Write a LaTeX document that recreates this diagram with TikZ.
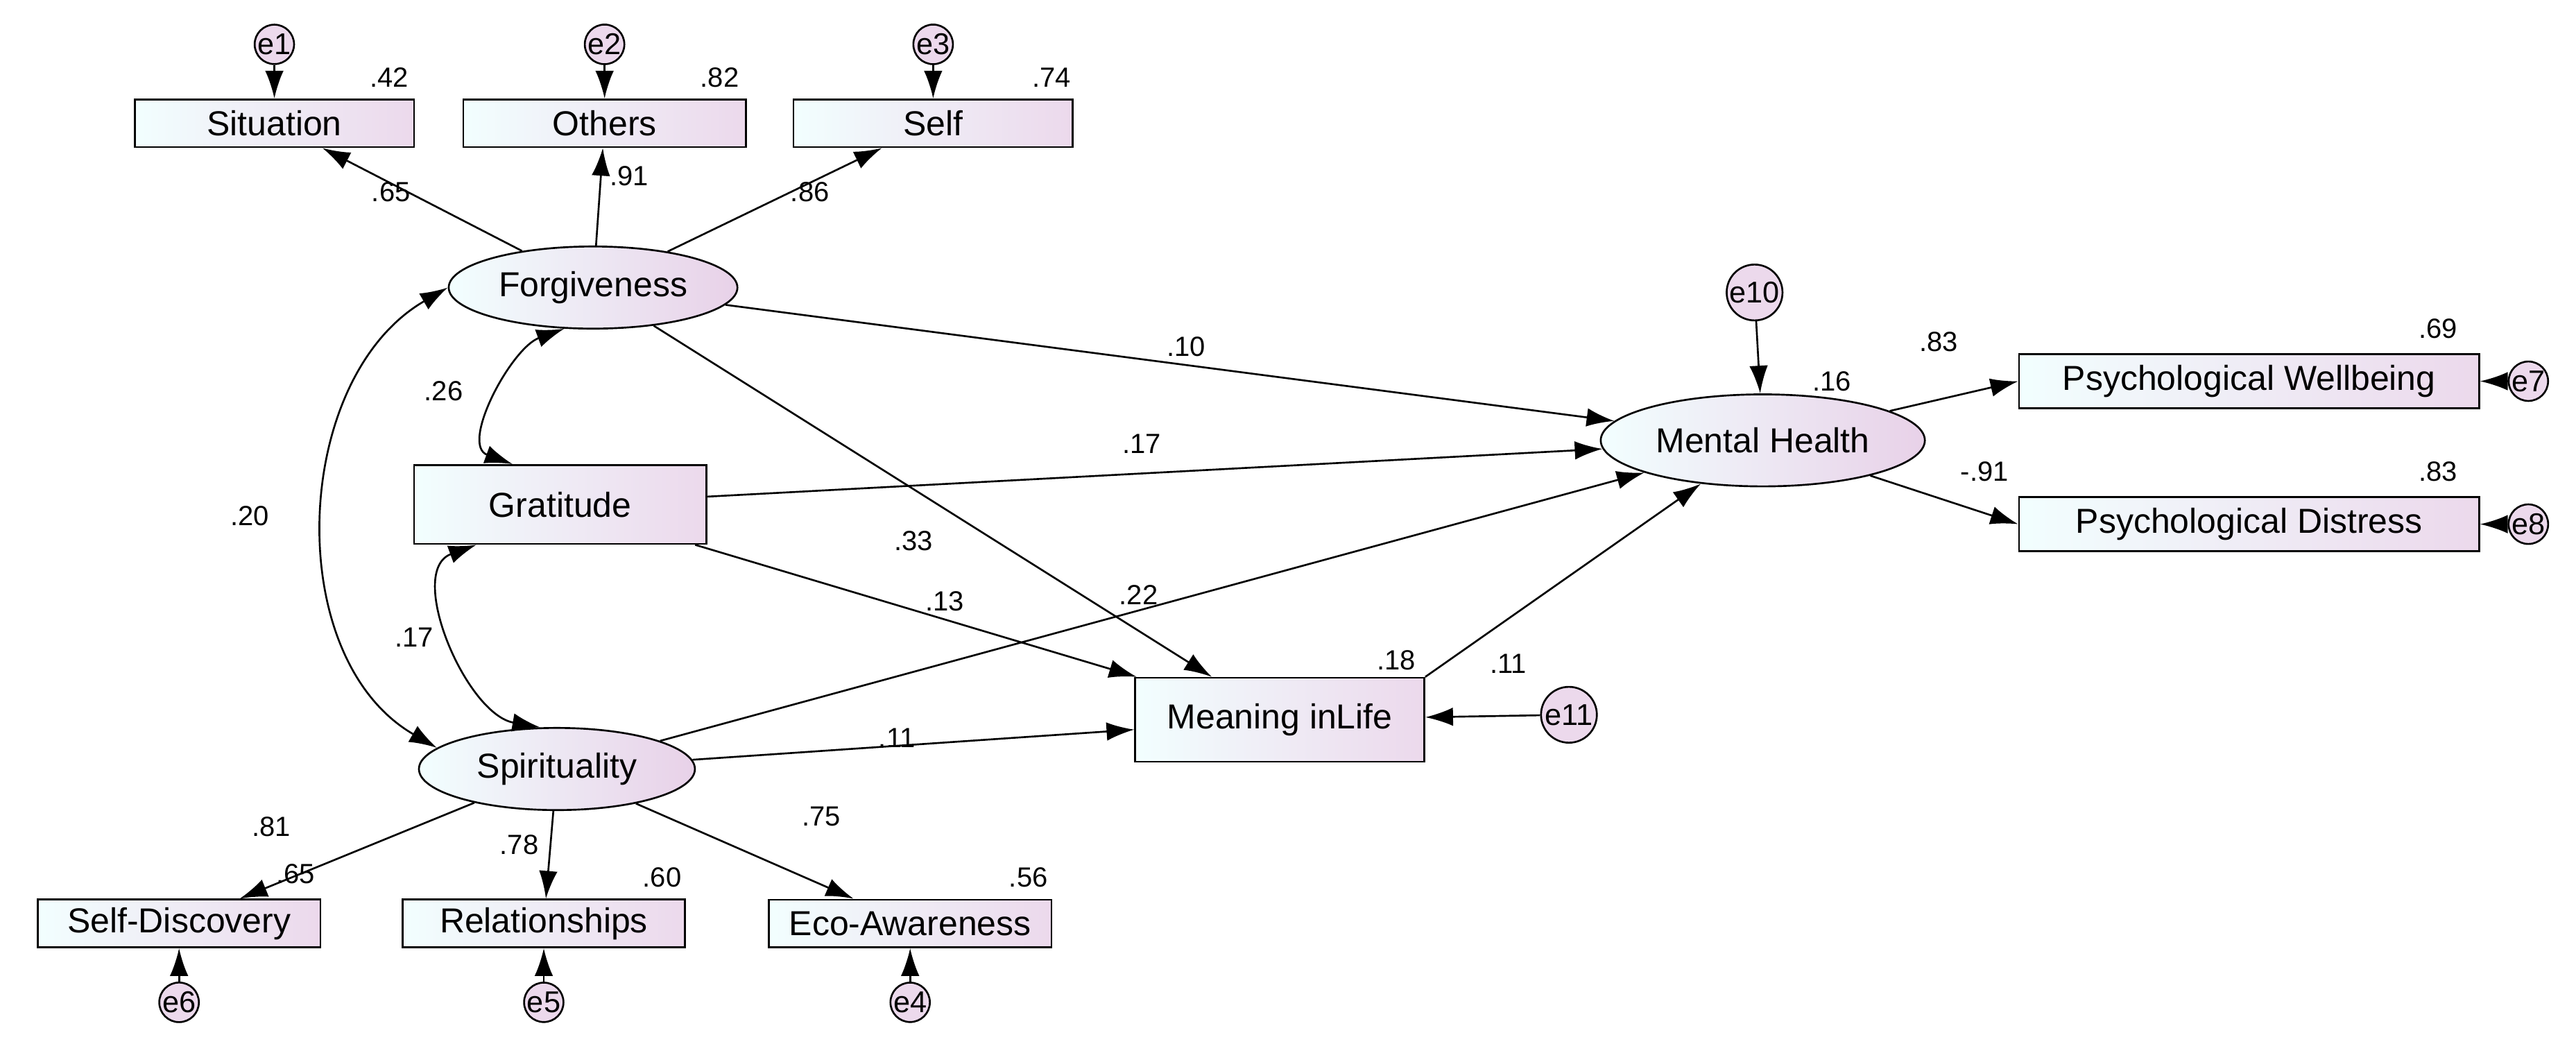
\documentclass[tikz,border=0pt]{standalone}
\usepackage{fontspec}
\setmainfont{Liberation Sans}
\usetikzlibrary{positioning}
\usetikzlibrary{arrows.meta}
\usetikzlibrary{shapes.geometric}

\begin{document}
\begin{tikzpicture}[x=0.025cm,y=-0.025cm,
observed/.style={
	% The shape:
	rectangle,draw=black,thick,
	% The filling:
	left color=black!3!cyan!5, right color=violet!15,
	font=\fontsize{15}{17}\selectfont},
latent/.style={
	ellipse,draw=black,thick,
	left color=black!3!cyan!5, right color=violet!18,
	font=\fontsize{15}{17}\selectfont},
err/.style={
	circle,draw=black,thick,inner sep=0pt,
	fill=violet!15,font=\fontsize{13}{14}\selectfont},
coef/.style={font=\fontsize{12}{13}\selectfont},
path/.style={-{Latex[length=12pt,width=8pt]},thick},
cov/.style={{Latex[length=12pt,width=8pt]}-{Latex[length=12pt,width=8pt]},thick},
]
\useasboundingbox (0,0) rectangle (1568,645);

% indicators of forgiveness
\node (situation) [observed,minimum width=170*0.025cm,minimum height=29*0.025cm] at (167,75) {Situation};
\node (others) [observed,minimum width=172*0.025cm,minimum height=29*0.025cm] at (368,75) {Others};
\node (self) [observed,minimum width=170*0.025cm,minimum height=29*0.025cm] at (568,75) {Self};
\node (e1) [err,minimum size=22*0.025cm] at (167,27) {e1};
\node (e2) [err,minimum size=22*0.025cm] at (368,27) {e2};
\node (e3) [err,minimum size=22*0.025cm] at (568,27) {e3};

% latent variables
\node (forg) [latent,minimum width=168*0.025cm,minimum height=50*0.025cm] at (361,175) {Forgiveness};
\node (grat) [observed,minimum width=178*0.025cm,minimum height=48*0.025cm] at (341,307) {Gratitude};
\node (spir) [latent,minimum width=168*0.025cm,minimum height=50*0.025cm] at (339,468) {Spirituality};
\node (mh) [latent,minimum width=164*0.025cm,minimum height=56*0.025cm] at (1073,268) {Mental Health};
\node (mil) [observed,minimum width=176*0.025cm,minimum height=51*0.025cm] at (779,438) {Meaning inLife};
\node (e10) [err,minimum size=34*0.025cm] at (1068,178) {e10};
\node (e11) [err,minimum size=34*0.025cm] at (955,435) {e11};

% indicators of spirituality
\node (selfdisc) [observed,minimum width=172*0.025cm,minimum height=29*0.025cm] at (109,562) {Self-Discovery};
\node (relat) [observed,minimum width=172*0.025cm,minimum height=29*0.025cm] at (331,562) {Relationships};
\node (eco) [observed,minimum width=172*0.025cm,minimum height=29*0.025cm] at (554,562) {Eco-Awareness};
\node (e6) [err,minimum size=22*0.025cm] at (109,610) {e6};
\node (e5) [err,minimum size=22*0.025cm] at (331,610) {e5};
\node (e4) [err,minimum size=22*0.025cm] at (554,610) {e4};

% indicators of mental health
\node (pw) [observed,minimum width=280*0.025cm,minimum height=33*0.025cm] at (1369,232) {Psychological Wellbeing};
\node (pd) [observed,minimum width=280*0.025cm,minimum height=33*0.025cm] at (1369,319) {Psychological Distress};
\node (e7) [err,minimum size=24*0.025cm] at (1539,232) {e7};
\node (e8) [err,minimum size=24*0.025cm] at (1539,319) {e8};

% paths
\draw[path] (e1) -- (situation);
\draw[path] (e2) -- (others);
\draw[path] (e3) -- (self);
\draw[path] (forg) -- (situation);
\draw[path] (forg) -- (others);
\draw[path] (forg) -- (self);
\draw[path] (forg) -- (mh);
\draw[path] (forg) -- (mil);
\draw[path] (grat) -- (mh);
\draw[path] (grat) -- (mil);
\draw[path] (spir) -- (mh);
\draw[path] (spir) -- (mil);
\draw[path] (mil.north east) -- (mh);
\draw[path] (e10) -- (mh);
\draw[path] (e11) -- (mil);
\draw[path] (mh) -- (pw.west);
\draw[path] (mh) -- (pd.west);
\draw[path] (e7) -- (pw);
\draw[path] (e8) -- (pd);
\draw[path] (spir) -- (selfdisc);
\draw[path] (spir) -- (relat);
\draw[path] (spir) -- (eco);
\draw[path] (e6) -- (selfdisc);
\draw[path] (e5) -- (relat);
\draw[path] (e4) -- (eco);

% covariances
\draw[cov] (forg.235) to[out=200,in=160] ([xshift=-29*0.025cm]grat.north);
\draw[cov] ([xshift=-51*0.025cm]grat.south) to[out=200,in=170] (spir.112);
\draw[cov] (forg.west) to[out=210,in=150] (spir.170);

% coefficients
\foreach \x/\y/\t in {237/47/.42, 438/47/.82, 640/47/.74, 238/117/.65, 383/107/.91, 493/117/.86,
	180/532/.65, 403/534/.60, 626/534/.56, 165/503/.81, 316/514/.78, 500/497/.75,
	1115/232/.16, 850/402/.18, 1484/200/.69, 1484/287/.83, 1180/208/.83, 1208/287/-.91,
	722/211/.10, 695/270/.17, 556/329/.33, 575/366/.13, 693/362/.22, 918/404/.11, 546/449/.11,
	270/238/.26, 252/388/.17, 152/314/.20}
	\node[coef] at (\x,\y) {\t};
\end{tikzpicture}
\end{document}
